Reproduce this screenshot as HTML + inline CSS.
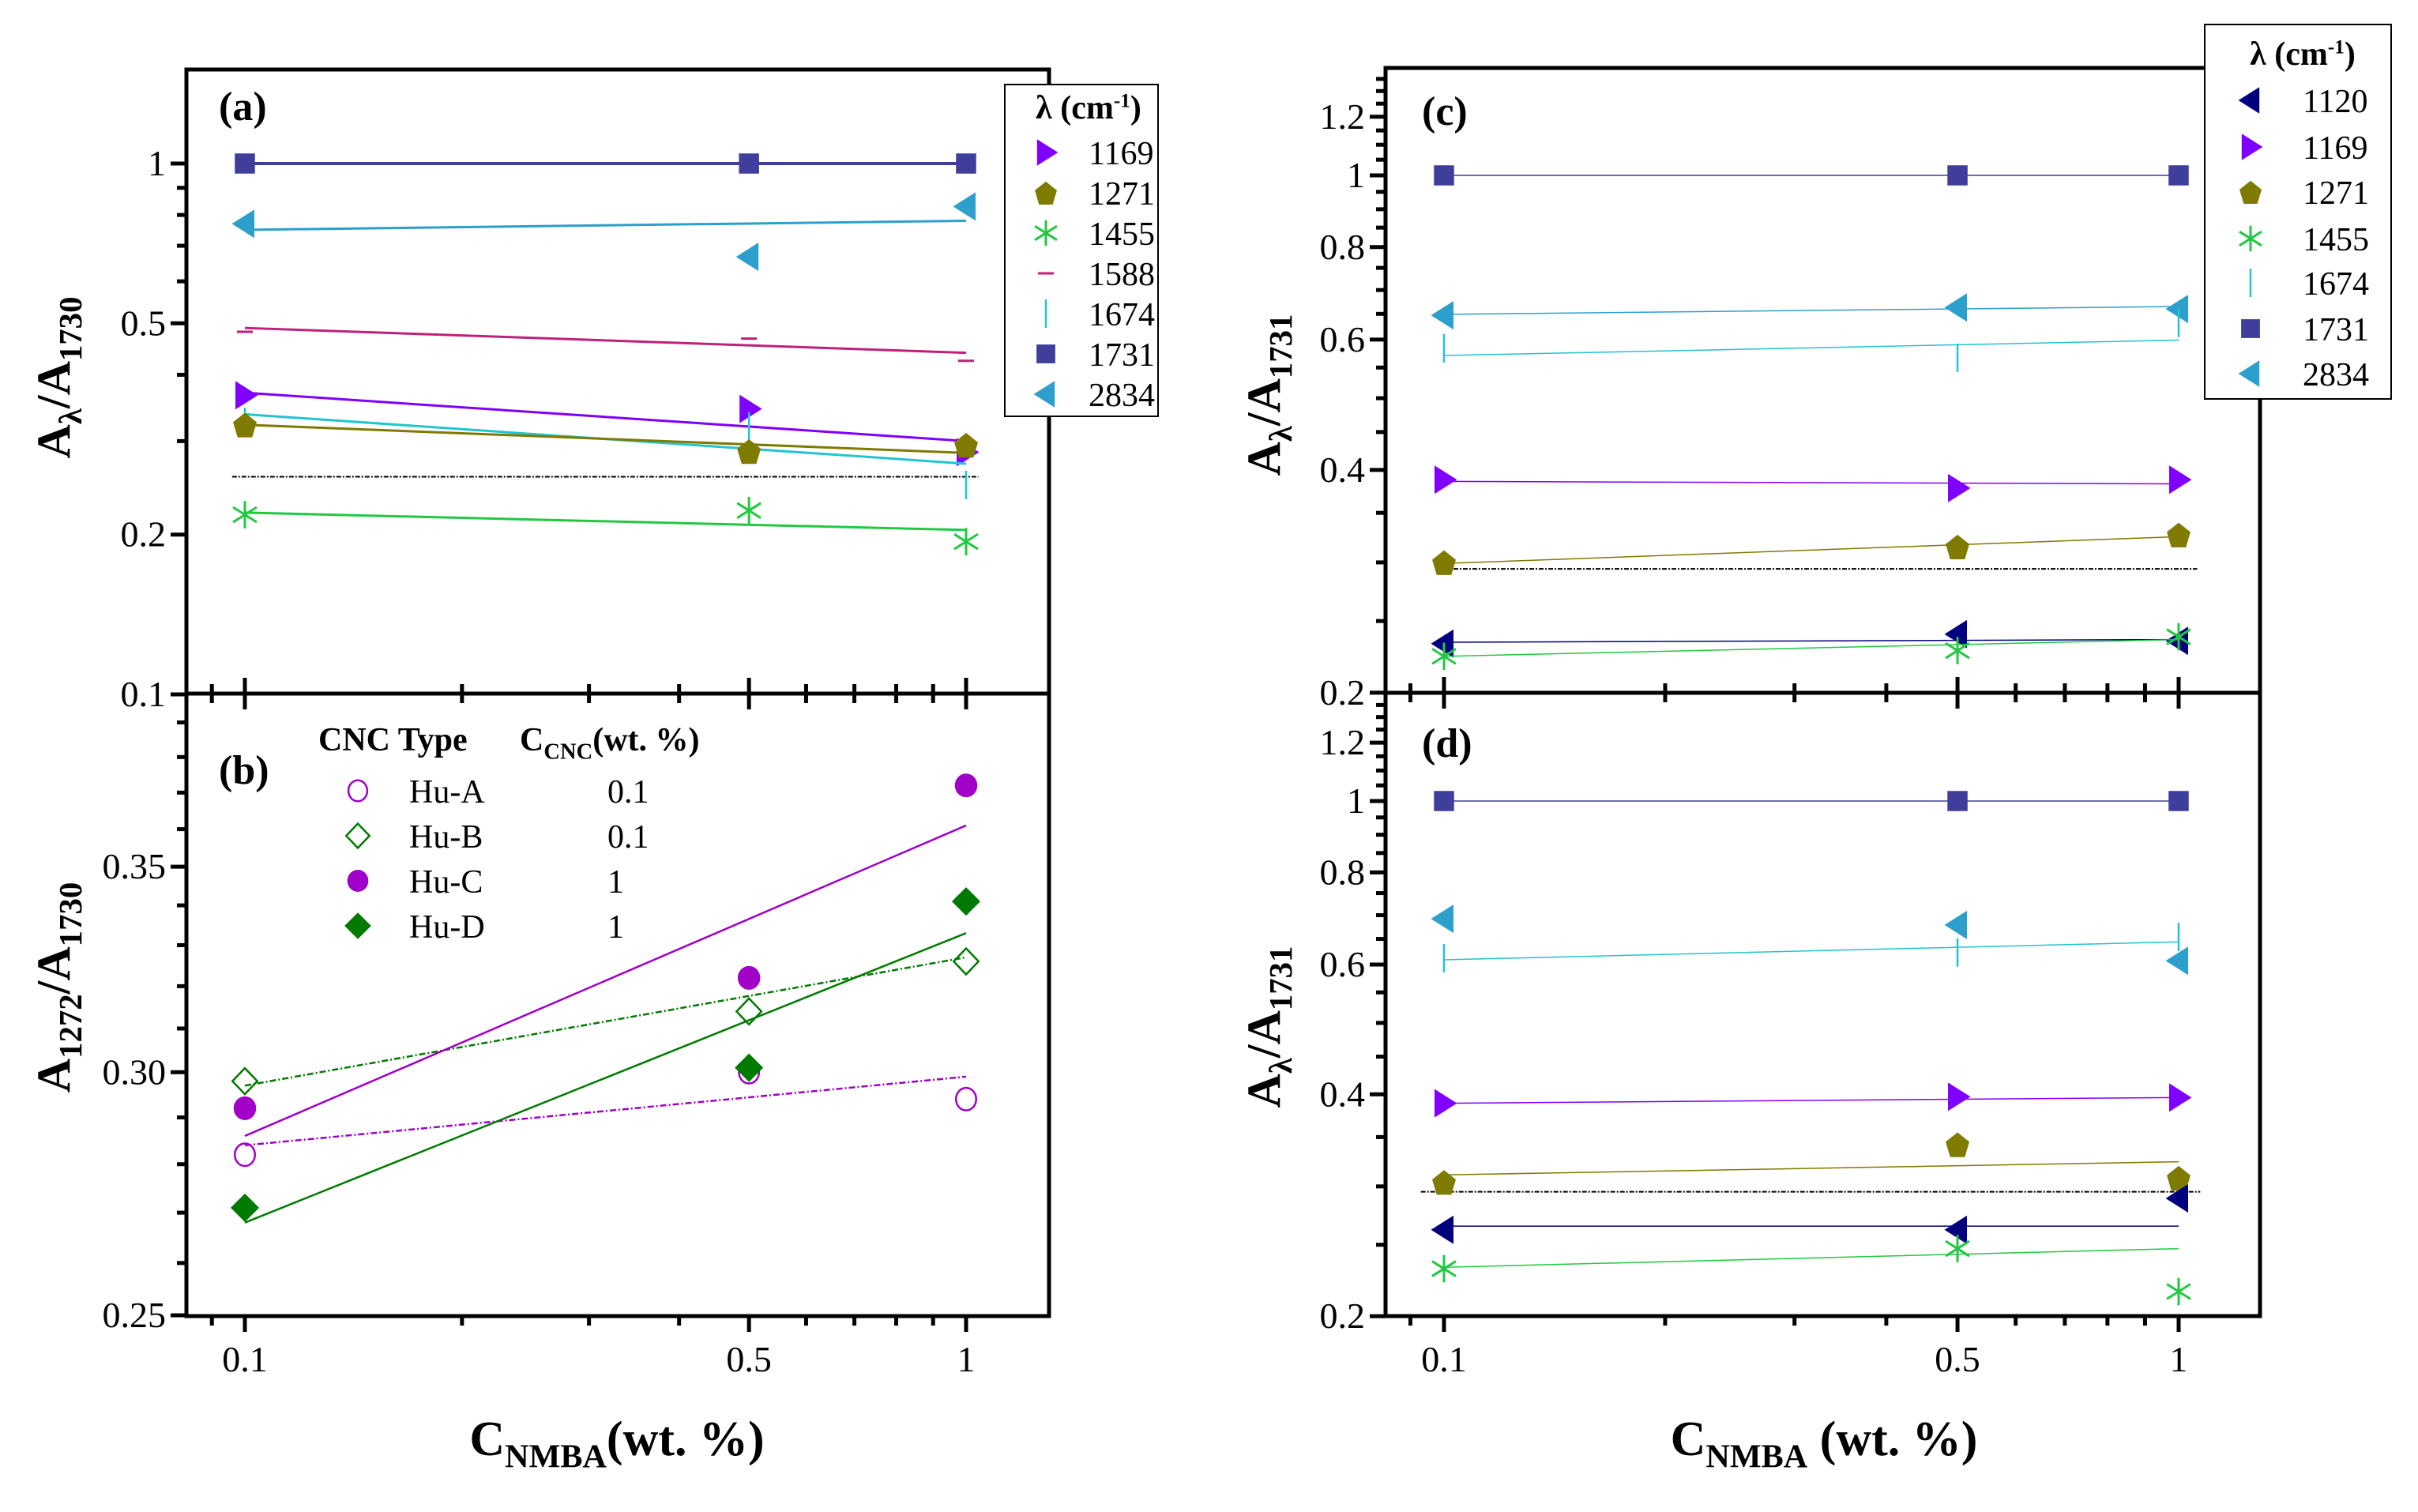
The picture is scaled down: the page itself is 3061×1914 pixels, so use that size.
<!DOCTYPE html>
<html><head><meta charset="utf-8">
<style>
html,body{margin:0;padding:0;background:#fff;}
svg{display:block;}
svg text{font-family:"Liberation Serif","Times New Roman",serif;}
</style></head>
<body>
<svg id="fig" xmlns="http://www.w3.org/2000/svg" width="3061" height="1914" viewBox="0 0 3061 1914" font-family="Liberation Serif, serif">
<rect x="0" y="0" width="3061" height="1914" fill="#fff"/>
<g id="root"></g>
</svg>
<script>
// ---------- data ----------
const xVals = [0.1, 0.5, 1];
const xTickLabels = ['0.1', '0.5', '1'];
// panel a
const a1169 = [0.366, 0.345, 0.286];
const a1271 = [0.322, 0.287, 0.295];
const a1455 = [0.218, 0.222, 0.194];
const a1588 = [0.482, 0.468, 0.425];
const a1674 = [0.326, 0.320, 0.248];
const a1731 = [1, 1, 1];
const a2834 = [0.77, 0.667, 0.83];
const aFit1169 = [0.37, 0.30];
const aFit1271 = [0.322, 0.285];
const aFit1455 = [0.22, 0.204];
const aFit1588 = [0.49, 0.44];
const aFit1674 = [0.337, 0.272];
const aFit1731 = [1, 1];
const aFit2834 = [0.75, 0.78];
const aRef = 0.257;
const aYTicks = [1, 0.5, 0.2, 0.1];
const aYTickLabels = ['1', '0.5', '0.2', '0.1'];
// panel b
const bHuA = [0.282, 0.300, 0.294];
const bHuB = [0.298, 0.314, 0.326];
const bHuC = [0.292, 0.322, 0.372];
const bHuD = [0.271, 0.301, 0.341];
const bFitHuA = [0.284, 0.299];
const bFitHuB = [0.297, 0.327];
const bFitHuC = [0.286, 0.361];
const bFitHuD = [0.268, 0.333];
const bYTicks = [0.35, 0.30, 0.25];
const bYTickLabels = ['0.35', '0.30', '0.25'];
const bLegendNames = ['Hu-A', 'Hu-B', 'Hu-C', 'Hu-D'];
const bLegendConc = ['0.1', '0.1', '1', '1'];
// panel c
const c1120 = [0.233, 0.240, 0.235];
const c1169 = [0.388, 0.378, 0.388];
const c1271 = [0.300, 0.315, 0.327];
const c1455 = [0.224, 0.228, 0.238];
const c1674 = [0.584, 0.567, 0.632];
const c1731 = [1, 1, 1];
const c2834 = [0.647, 0.663, 0.660];
const cFit1120 = [0.234, 0.236];
const cFit1169 = [0.386, 0.383];
const cFit1271 = [0.299, 0.325];
const cFit1455 = [0.224, 0.236];
const cFit1674 = [0.571, 0.599];
const cFit1731 = [1, 1];
const cFit2834 = [0.649, 0.665];
const cRef = 0.294;
// panel d
const d1120 = [0.262, 0.262, 0.289];
const d1169 = [0.389, 0.397, 0.396];
const d1271 = [0.304, 0.342, 0.308];
const d1455 = [0.232, 0.247, 0.216];
const d1674 = [0.612, 0.623, 0.654];
const d1731 = [1, 1, 1];
const d2834 = [0.692, 0.679, 0.607];
const dFit1120 = [0.265, 0.265];
const dFit1169 = [0.389, 0.396];
const dFit1271 = [0.311, 0.324];
const dFit1455 = [0.233, 0.247];
const dFit1674 = [0.609, 0.644];
const dFit1731 = [1, 1];
const dRef = 0.295;
const cdYTicks = [1.2, 1, 0.8, 0.6, 0.4, 0.2];
const cdYTickLabels = ['1.2', '1', '0.8', '0.6', '0.4', '0.2'];

// ---------- helpers ----------
const NS = 'http://www.w3.org/2000/svg';
const root = document.getElementById('root');
const L = Math.log10;
const FONT = '"Liberation Serif", "Times New Roman", serif';
function el(tag, attrs, parent) {
  const e = document.createElementNS(NS, tag);
  for (const k in attrs) e.setAttribute(k, attrs[k]);
  (parent || root).appendChild(e);
  return e;
}
const xL = v => 310 + 913 * (L(v) + 1);
const xR = v => 1828 + 930 * (L(v) + 1);
const yA = v => 207 - 672 * L(v);
const yB = v => 1665 - 3886 * L(v / 0.25);
const yC = v => 222 - 937 * L(v);
const yD = v => 1014 - 933 * L(v);

const COL = {c1120:'#00007f', c1169:'#8000ff', c1271:'#7f7a00', c1455:'#22c840', c1588:'#c0207a', c1674:'#22c4d0', c1731:'#3f3f9b', c2834:'#2c9fcc'};

function marker(g, type, cx, cy, color, s) {
  s = s || 15;
  let m;
  if (type === 'square') m = el('rect', {x: cx - s * 0.85, y: cy - s * 0.85, width: 1.7 * s, height: 1.7 * s, fill: color}, g);
  else if (type === 'right') m = el('polygon', {points: `${cx-s*0.8},${cy-s*1.2} ${cx+s*1.1},${cy} ${cx-s*0.8},${cy+s*1.2}`, fill: color}, g);
  else if (type === 'left') m = el('polygon', {points: `${cx+s*0.8},${cy-s*1.2} ${cx-s*1.1},${cy} ${cx+s*0.8},${cy+s*1.2}`, fill: color}, g);
  else if (type === 'pent') {
    let p = [];
    for (let i = 0; i < 5; i++) { const a = -Math.PI / 2 + i * 2 * Math.PI / 5; p.push((cx + s * 1.05 * Math.cos(a)) + ',' + (cy + 2 + s * 1.15 * Math.sin(a))); }
    m = el('polygon', {points: p.join(' '), fill: color}, g);
  } else if (type === 'star') {
    m = el('g', {stroke: color, 'stroke-width': 3}, g);
    const r = s * 1.05;
    el('line', {x1: cx, y1: cy - r * 1.1, x2: cx, y2: cy + r * 1.1}, m);
    for (let i = 0; i < 2; i++) { const a = Math.PI / 6 + i * 2 * Math.PI / 6; }
    el('line', {x1: cx - r * 0.95, y1: cy - r * 0.6, x2: cx + r * 0.95, y2: cy + r * 0.6}, m);
    el('line', {x1: cx - r * 0.95, y1: cy + r * 0.6, x2: cx + r * 0.95, y2: cy - r * 0.6}, m);
  } else if (type === 'hdash') m = el('line', {x1: cx - 10, y1: cy, x2: cx + 10, y2: cy, stroke: color, 'stroke-width': 3}, g);
  else if (type === 'vtick') m = el('line', {x1: cx, y1: cy - 18, x2: cx, y2: cy + 18, stroke: color, 'stroke-width': 2.5}, g);
  else if (type === 'ocircle') m = el('ellipse', {cx: cx, cy: cy, rx: s * 0.85, ry: s * 0.95, fill: 'none', stroke: color, 'stroke-width': 2.5}, g);
  else if (type === 'fcircle') m = el('ellipse', {cx: cx, cy: cy, rx: s * 0.95, ry: s * 1.0, fill: color}, g);
  else if (type === 'odiamond') m = el('polygon', {points: `${cx},${cy-s*1.1} ${cx+s*1.05},${cy} ${cx},${cy+s*1.1} ${cx-s*1.05},${cy}`, fill: 'none', stroke: color, 'stroke-width': 2.5}, g);
  else if (type === 'fdiamond') m = el('polygon', {points: `${cx},${cy-s*1.2} ${cx+s*1.2},${cy} ${cx},${cy+s*1.2} ${cx-s*1.2},${cy}`, fill: color}, g);
  return m;
}

function series(name, xs, ys, vals, fit, type, color, lw, dash) {
  const g = el('g', {});
  
  
  if (fit) {
    const ln = el('line', {x1: xs(xVals[0]), y1: ys(fit[0]), x2: xs(xVals[xVals.length - 1]), y2: ys(fit[1]), stroke: color, 'stroke-width': lw}, g);
    if (dash) ln.setAttribute('stroke-dasharray', dash);
    
    
  }
  vals.forEach((v, i) => {
    const m = marker(g, type, xs(xVals[i]), ys(v), color);
    
    
  });
}

function text(str, x, y, size, opts) {
  opts = opts || {};
  const t = el('text', {x: x, y: y, 'font-size': size, 'font-family': FONT, 'text-anchor': opts.anchor || 'start', 'font-weight': opts.bold ? 'bold' : 'normal', fill: '#000'});
  if (opts.transform) t.setAttribute('transform', opts.transform);
  t.textContent = str;
  return t;
}
function subText(parts, x, y, size, opts) {
  opts = opts || {};
  const t = el('text', {x: x, y: y, 'font-size': size, 'font-family': FONT, 'text-anchor': opts.anchor || 'start', 'font-weight': opts.bold ? 'bold' : 'normal'});
  if (opts.transform) t.setAttribute('transform', opts.transform);
  parts.forEach(p => {
    const ts = el('tspan', {}, t);
    if (p[1]) { ts.setAttribute('font-size', size * 0.68); ts.setAttribute('dy', size * 0.25); }
    if (p[2]) { ts.setAttribute('font-size', size * 0.6); ts.setAttribute('dy', -size * 0.35); }
    ts.textContent = p[0];
    if (p[1]) { const back = el('tspan', {dy: -size * 0.25, 'font-size': 1}, t); back.textContent = '\u200b'; }
    if (p[2]) { const back = el('tspan', {dy: size * 0.35, 'font-size': 1}, t); back.textContent = '\u200b'; }
  });
  return t;
}

function axisFrame(name, x0, y0, x1, y1) {
  const r = el('rect', {x: x0, y: y0, width: x1 - x0, height: y1 - y0, fill: 'none', stroke: '#000', 'stroke-width': 5});
  
  
}
function yTicks(x0, ys, majors, labels, minors, name) {
  const g = el('g', {stroke: '#000', 'stroke-width': 5});
  
  
  majors.forEach((v, i) => {
    el('line', {x1: x0 - 20, y1: ys(v), x2: x0, y2: ys(v)}, g);
    const t = text(labels[i], x0 - 26, ys(v) + 15, 46, {anchor: 'end'});
    t.setAttribute('stroke', 'none');
  });
  minors.forEach(v => el('line', {x1: x0 - 12, y1: ys(v), x2: x0, y2: ys(v)}, g));
}
const xMinor = [0.09, 0.2, 0.3, 0.4, 0.6, 0.7, 0.8, 0.9];
function xTicks(xs, yLine, both, labelsOn, name) {
  const g = el('g', {stroke: '#000', 'stroke-width': 5});
  
  
  xVals.forEach((v, i) => {
    el('line', {x1: xs(v), y1: yLine - (both ? 20 : 0), x2: xs(v), y2: yLine + 20}, g);
    if (labelsOn) { const t = text(xTickLabels[i], xs(v), yLine + 70, 46, {anchor: 'middle'}); t.setAttribute('stroke', 'none'); }
  });
  xMinor.forEach(v => el('line', {x1: xs(v), y1: yLine - (both ? 12 : 0), x2: xs(v), y2: yLine + 12}, g));
}
function refLine(name, xs, ys, v, xa, xb) {
  const l = el('line', {x1: xs(xa), y1: ys(v), x2: xs(xb), y2: ys(v), stroke: '#000', 'stroke-width': 2, 'stroke-dasharray': '6 2 2 2'});
  
  
}

// ---------- panel frames ----------
axisFrame('panel-a-frame', 236, 88, 1328, 878);
axisFrame('panel-b-frame', 236, 878, 1328, 1666);
axisFrame('panel-c-frame', 1754, 86, 2861, 877);
axisFrame('panel-d-frame', 1754, 877, 2861, 1666);

yTicks(236, yA, aYTicks, aYTickLabels, [0.9, 0.8, 0.7, 0.6, 0.4, 0.3], 'panel-a-y-ticks');
yTicks(236, yB, bYTicks, bYTickLabels, [0.26,0.27,0.28,0.29,0.31,0.32,0.33,0.34,0.36,0.37,0.38,0.39], 'panel-b-y-ticks');
const cdMinor = [0.25,0.3,0.35,0.45,0.5,0.55,0.65,0.7,0.75,0.85,0.9,0.95,1.05,1.1,1.15,1.25,1.3,1.35];
yTicks(1754, yC, cdYTicks, cdYTickLabels, cdMinor, 'panel-c-y-ticks');
yTicks(1754, yD, cdYTicks, cdYTickLabels, cdMinor, 'panel-d-y-ticks');
xTicks(xL, 878, true, false, 'panel-a-x-ticks');
xTicks(xL, 1666, false, true, 'panel-b-x-ticks');
xTicks(xR, 877, true, false, 'panel-c-x-ticks');
xTicks(xR, 1666, false, true, 'panel-d-x-ticks');

text('(a)', 277, 152, 52, {bold: true});
text('(b)', 277, 992, 52, {bold: true});
text('(c)', 1800, 158, 52, {bold: true});
text('(d)', 1800, 958, 52, {bold: true});

subText([['A'], ['λ', true], ['/A'], ['1730', true]], 0, 0, 60, {bold: true, anchor: 'middle', transform: 'translate(88,478) rotate(-90)'});
subText([['A'], ['1272', true], ['/A'], ['1730', true]], 0, 0, 60, {bold: true, anchor: 'middle', transform: 'translate(88,1250) rotate(-90)'});
subText([['A'], ['λ', true], ['/A'], ['1731', true]], 0, 0, 60, {bold: true, anchor: 'middle', transform: 'translate(1620,500) rotate(-90)'});
subText([['A'], ['λ', true], ['/A'], ['1731', true]], 0, 0, 60, {bold: true, anchor: 'middle', transform: 'translate(1620,1300) rotate(-90)'});
subText([['C'], ['NMBA', true], ['(wt. %)']], 781, 1842, 62, {bold: true, anchor: 'middle'});
subText([['C'], ['NMBA', true], [' (wt. %)']], 2309, 1842, 62, {bold: true, anchor: 'middle'});

// ---------- panel a ----------
refLine('panel-a-reference-line', xL, yA, aRef, 0.096, 1.04);
series('a-1731', xL, yA, a1731, aFit1731, 'square', COL.c1731, 4);
series('a-2834', xL, yA, a2834, aFit2834, 'left', COL.c2834, 3);
series('a-1588', xL, yA, a1588, aFit1588, 'hdash', COL.c1588, 3);
series('a-1169', xL, yA, a1169, aFit1169, 'right', COL.c1169, 3);
series('a-1674', xL, yA, a1674, aFit1674, 'vtick', COL.c1674, 3);
series('a-1271', xL, yA, a1271, aFit1271, 'pent', COL.c1271, 3);
series('a-1455', xL, yA, a1455, aFit1455, 'star', COL.c1455, 3);

// ---------- panel b ----------
series('b-hu-a', xL, yB, bHuA, bFitHuA, 'ocircle', '#a000c8', 2.5, '8 3 2 3');
series('b-hu-b', xL, yB, bHuB, bFitHuB, 'odiamond', '#007a00', 2.5, '8 3 2 3');
series('b-hu-c', xL, yB, bHuC, bFitHuC, 'fcircle', '#a000c8', 2.5);
series('b-hu-d', xL, yB, bHuD, bFitHuD, 'fdiamond', '#007a00', 2.5);

// ---------- panel c ----------
refLine('panel-c-reference-line', xR, yC, cRef, 0.1, 1.06);
series('c-1731', xR, yC, c1731, cFit1731, 'square', COL.c1731, 1.5);
series('c-2834', xR, yC, c2834, cFit2834, 'left', COL.c2834, 1.5);
series('c-1674', xR, yC, c1674, cFit1674, 'vtick', COL.c1674, 1.5);
series('c-1169', xR, yC, c1169, cFit1169, 'right', COL.c1169, 1.5);
series('c-1271', xR, yC, c1271, cFit1271, 'pent', COL.c1271, 1.5);
series('c-1120', xR, yC, c1120, cFit1120, 'left', COL.c1120, 1.5);
series('c-1455', xR, yC, c1455, cFit1455, 'star', COL.c1455, 1.5);

// ---------- panel d ----------
refLine('panel-d-reference-line', xR, yD, dRef, 0.093, 1.07);
series('d-1731', xR, yD, d1731, dFit1731, 'square', COL.c1731, 1.5);
series('d-2834', xR, yD, d2834, null, 'left', COL.c2834, 1.5);
series('d-1674', xR, yD, d1674, dFit1674, 'vtick', COL.c1674, 1.5);
series('d-1169', xR, yD, d1169, dFit1169, 'right', COL.c1169, 1.5);
series('d-1271', xR, yD, d1271, dFit1271, 'pent', COL.c1271, 1.5);
series('d-1120', xR, yD, d1120, dFit1120, 'left', COL.c1120, 1.5);
series('d-1455', xR, yD, d1455, dFit1455, 'star', COL.c1455, 1.5);

// ---------- legends ----------
function legend(name, bx, by, bw, bh, headerX, headerY, mx, tx, rows) {
  const g = el('g', {});
  
  
  el('rect', {x: bx, y: by, width: bw, height: bh, fill: '#fff', stroke: '#000', 'stroke-width': 2}, g);
  const h = subText([['λ (cm'], ['-1', false, true], [')']], headerX, headerY, 42, {bold: true, anchor: 'middle'});
  g.appendChild(h);
  rows.forEach(r => {
    const e = el('g', {}, g);
    
    
    marker(e, r[1], mx, r[3], r[2], 14);
    const t = text(r[0], tx, r[3] + 15, 42);
    e.appendChild(t);
  });
}
legend('legend-a', 1272, 107, 194, 420, 1378, 150, 1324, 1378, [
  ['1169','right',COL.c1169,193],['1271','pent',COL.c1271,244],['1455','star',COL.c1455,295],
  ['1588','hdash',COL.c1588,346],['1674','vtick',COL.c1674,397],['1731','square',COL.c1731,448],['2834','left',COL.c2834,499]]);
legend('legend-c', 2791, 31, 236, 474, 2915, 82, 2849, 2915, [
  ['1120','left',COL.c1120,127],['1169','right',COL.c1169,186],['1271','pent',COL.c1271,243],
  ['1455','star',COL.c1455,302],['1674','vtick',COL.c1674,358],['1731','square',COL.c1731,416],['2834','left',COL.c2834,473]]);

(function () {
  const g = el('g', {});
  
  
  g.appendChild(text('CNC Type', 403, 950, 42, {bold: true}));
  g.appendChild(subText([['C'], ['CNC', true], ['(wt. %)']], 658, 950, 42, {bold: true}));
  const types = ['ocircle', 'odiamond', 'fcircle', 'fdiamond'];
  const cols = ['#a000c8', '#007a00', '#a000c8', '#007a00'];
  const rowY = [1001, 1058, 1115, 1172];
  bLegendNames.forEach((n, i) => {
    const e = el('g', {}, g);
    
    
    marker(e, types[i], 453, rowY[i], cols[i], 14);
    e.appendChild(text(n, 518, rowY[i] + 15, 42));
    e.appendChild(text(bLegendConc[i], 769, rowY[i] + 15, 42));
  });
})();
</script>
</body></html>
